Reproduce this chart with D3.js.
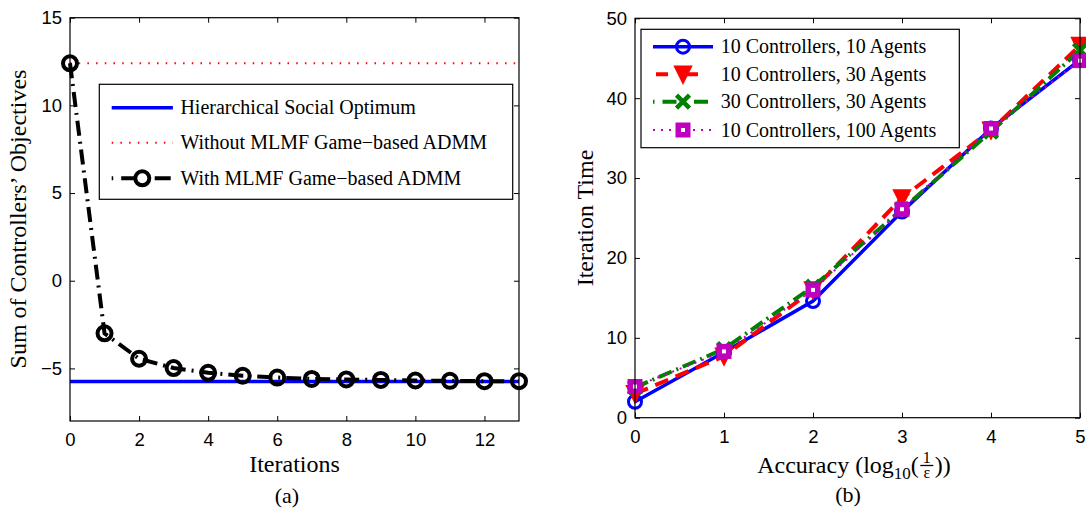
<!DOCTYPE html>
<html>
<head>
<meta charset="utf-8">
<script src="https://cdn.jsdelivr.net/npm/d3@7/dist/d3.min.js"></script>
<style>
  body { margin: 0; background: #fff; }
</style>
</head>
<body>
<svg id="chart" width="1086" height="510"></svg>
<script>
// (a) convergence
const iterations = [0, 1, 2, 3, 4, 5, 6, 7, 8, 9, 10, 11, 12, 13];
const withAdmm = [12.4, -3.0, -4.45, -4.98, -5.25, -5.42, -5.52, -5.6, -5.63, -5.66, -5.69, -5.71, -5.73, -5.73];
const socialOptimum = -5.75;
const withoutAdmm = 12.4;
const iterTicks = [0, 2, 4, 6, 8, 10, 12];
const objTicks = [-5, 0, 5, 10, 15];

// (b) iteration time vs accuracy
const accuracy = [0, 1, 2, 3, 4, 5];
const c10a10 = [2.0, 8.2, 14.6, 25.8, 36.2, 44.8];
const c10a30 = [3.0, 7.7, 16.0, 27.5, 36.0, 46.6];
const c30a30 = [3.8, 8.6, 16.4, 26.1, 35.8, 46.0];
const c10a100 = [3.9, 8.3, 16.0, 26.1, 36.2, 44.7];
const timeTicks = [0, 10, 20, 30, 40, 50];

const serif = "'Liberation Serif', 'Times New Roman', serif";
const sans = "'Liberation Sans', Arial, sans-serif";

const svg = d3.select('#chart');

const frame = (g, x, y, xTicks, yTicks) => {
  const [xa, xb] = x.range();
  const [ya, yb] = y.range();
  const fmt = d => d < 0 ? '\u2212' + Math.abs(d) : String(d);

  g.append('g').attr('transform', `translate(0,${ya})`)
    .call(d3.axisBottom(x).tickValues(xTicks).tickSize(-5).tickSizeOuter(0).tickPadding(12).tickFormat(fmt));
  g.append('g').attr('transform', `translate(0,${yb})`)
    .call(d3.axisTop(x).tickValues(xTicks).tickSize(-5).tickSizeOuter(0).tickFormat(''));
  g.append('g').attr('transform', `translate(${xa},0)`)
    .call(d3.axisLeft(y).tickValues(yTicks).tickSize(-5).tickSizeOuter(0).tickPadding(8).tickFormat(fmt));
  g.append('g').attr('transform', `translate(${xb},0)`)
    .call(d3.axisRight(y).tickValues(yTicks).tickSize(-5).tickSizeOuter(0).tickFormat(''));

  g.selectAll('.domain').remove();
  g.selectAll('.tick line').attr('stroke', '#000').attr('stroke-width', 1);
  g.selectAll('.tick text').attr('fill', '#000').style('font-family', sans).style('font-size', '18.5px');

  g.append('rect')
    .attr('x', xa).attr('y', yb)
    .attr('width', xb - xa).attr('height', ya - yb)
    .attr('fill', 'none').attr('stroke', '#000').attr('stroke-width', 1.2);
}

const yLabel = (x, y, txt) => {
  svg.append('text')
    .attr('transform', `translate(${x},${y}) rotate(-90)`)
    .attr('text-anchor', 'middle')
    .style('font-family', serif).style('font-size', '24px')
    .text(txt);
}

const plainText = (x, y, txt, size) => {
  svg.append('text')
    .attr('x', x).attr('y', y)
    .attr('text-anchor', 'middle')
    .style('font-family', serif).style('font-size', size + 'px')
    .text(txt);
}

// ---------- (a) ----------
const xa = d3.scaleLinear().domain([0, 13]).range([70, 519]);
const ya = d3.scaleLinear().domain([-8, 15]).range([421, 17.7]);
const ga = svg.append('g');

const plotA = ga.append('g');
plotA.append('line')
  .attr('x1', xa(0)).attr('x2', xa(13))
  .attr('y1', ya(socialOptimum)).attr('y2', ya(socialOptimum))
  .attr('stroke', '#0000ff').attr('stroke-width', 3.5);
plotA.append('line')
  .attr('x1', xa(0)).attr('x2', xa(13))
  .attr('y1', ya(withoutAdmm)).attr('y2', ya(withoutAdmm))
  .attr('stroke', '#ff0000').attr('stroke-width', 2).attr('stroke-dasharray', '1.5,7.2');

const lineA = d3.line().x((d, i) => xa(iterations[i])).y(d => ya(d));
plotA.append('path')
  .attr('d', lineA(withAdmm))
  .attr('fill', 'none').attr('stroke', '#000').attr('stroke-width', 4)
  .attr('stroke-dasharray', '15,6,2,6');
plotA.selectAll('circle.m')
  .data(withAdmm)
  .enter()
  .append('circle')
  .attr('cx', (d, i) => xa(iterations[i]))
  .attr('cy', d => ya(d))
  .attr('r', 7)
  .attr('fill', 'none').attr('stroke', '#000').attr('stroke-width', 4);

frame(ga, xa, ya, iterTicks, objTicks);

// legend (a)
const legA = ga.append('g');
legA.append('rect').attr('x', 99.3).attr('y', 84.3).attr('width', 413.4).attr('height', 115)
  .attr('fill', '#fff').attr('stroke', '#000').attr('stroke-width', 1.2);
const legAItems = ['Hierarchical Social Optimum', 'Without MLMF Game\u2212based ADMM', 'With MLMF Game\u2212based ADMM'];
const legAY = [107.7, 142.7, 178.3];
legA.append('line').attr('x1', 111.7).attr('x2', 172.9).attr('y1', legAY[0]).attr('y2', legAY[0])
  .attr('stroke', '#0000ff').attr('stroke-width', 3.5);
legA.append('line').attr('x1', 111.7).attr('x2', 172.9).attr('y1', legAY[1]).attr('y2', legAY[1])
  .attr('stroke', '#ff0000').attr('stroke-width', 2).attr('stroke-dasharray', '1.5,7.2');
legA.append('line').attr('x1', 111.7).attr('x2', 172.9).attr('y1', legAY[2]).attr('y2', legAY[2])
  .attr('stroke', '#000').attr('stroke-width', 4).attr('stroke-dasharray', '1.5,8,16,8');
legA.append('circle').attr('cx', 142.3).attr('cy', legAY[2]).attr('r', 7)
  .attr('fill', '#fff').attr('stroke', '#000').attr('stroke-width', 4);
legAItems.forEach((t, i) => {
  legA.append('text').attr('x', 180.4).attr('y', legAY[i]).attr('dy', '0.33em')
    .style('font-family', serif).style('font-size', '20px').text(t);
});

yLabel(25.5, 219, 'Sum of Controllers\u2019 Objectives');
plainText(294.5, 472, 'Iterations', 24);
plainText(287, 503, '(a)', 22);

// ---------- (b) ----------
const xb = d3.scaleLinear().domain([0, 5]).range([635, 1080]);
const yb = d3.scaleLinear().domain([0, 50]).range([417.7, 18.3]);
const gb = svg.append('g');
const plotB = gb.append('g');
const lineB = d3.line().x((d, i) => xb(accuracy[i])).y(d => yb(d));

const series = [
  {name: '10 Controllers, 10 Agents', values: c10a10, color: '#0000ff', dash: null, legDash: null, width: 3.5, marker: 'circle'},
  {name: '10 Controllers, 30 Agents', values: c10a30, color: '#ff0000', dash: '14,8', legDash: '0,3,12,15', width: 4, marker: 'tri'},
  {name: '30 Controllers, 30 Agents', values: c30a30, color: '#008000', dash: '14,5,2,5', legDash: '1.5,8,14,8', width: 4, marker: 'x'},
  {name: '10 Controllers, 100 Agents', values: c10a100, color: '#bf00bf', dash: '2,6', legDash: '2,6', width: 2, marker: 'square'}
];

const drawMarker = (g, type, cx, cy, color) => {
  if (type === 'circle') {
    g.append('circle').attr('cx', cx).attr('cy', cy).attr('r', 6.5)
      .attr('fill', 'none').attr('stroke', color).attr('stroke-width', 3);
  } else if (type === 'tri') {
    g.append('path')
      .attr('d', `M${cx - 8.5},${cy - 8}L${cx + 8.5},${cy - 8}L${cx},${cy + 9}Z`)
      .attr('fill', color).attr('stroke', color).attr('stroke-width', 1.5);
  } else if (type === 'x') {
    g.append('path')
      .attr('d', `M${cx - 6.5},${cy - 6.5}L${cx + 6.5},${cy + 6.5}M${cx - 6.5},${cy + 6.5}L${cx + 6.5},${cy - 6.5}`)
      .attr('stroke', color).attr('stroke-width', 4.5);
  } else {
    g.append('rect').attr('x', cx - 7).attr('y', cy - 7).attr('width', 14).attr('height', 14)
      .attr('fill', color).attr('stroke', color).attr('stroke-width', 1);
    g.append('rect').attr('x', cx - 2).attr('y', cy - 2).attr('width', 4).attr('height', 4)
      .attr('fill', '#fff');
  }
}

series.forEach(s => {
  const p = plotB.append('path')
    .attr('d', lineB(s.values))
    .attr('fill', 'none').attr('stroke', s.color).attr('stroke-width', s.width);
  if (s.dash) p.attr('stroke-dasharray', s.dash);
});
series.forEach(s => {
  s.values.forEach((v, i) => drawMarker(plotB, s.marker, xb(accuracy[i]), yb(v), s.color));
});

frame(gb, xb, yb, accuracy, timeTicks);

// legend (b)
const legB = gb.append('g');
legB.append('rect').attr('x', 641).attr('y', 29.3).attr('width', 318.3).attr('height', 118.4)
  .attr('fill', '#fff').attr('stroke', '#000').attr('stroke-width', 1.2);
const legBY = [46.7, 74.3, 101.7, 130];
series.forEach((s, i) => {
  const l = legB.append('line').attr('x1', 653).attr('x2', 713).attr('y1', legBY[i]).attr('y2', legBY[i])
    .attr('stroke', s.color).attr('stroke-width', s.width);
  if (s.legDash) l.attr('stroke-dasharray', s.legDash);
  drawMarker(legB, s.marker, 683, legBY[i], s.color);
  legB.append('text').attr('x', 720.7).attr('y', legBY[i]).attr('dy', '0.33em')
    .style('font-family', serif).style('font-size', '20px').text(s.name);
});

yLabel(593, 218, 'Iteration Time');

// x label with math
const mathLabel = (cx, base) => {
  const g = svg.append('g');
  const t = g.append('text').attr('x', 0).attr('y', base)
    .style('font-family', serif).style('font-size', '24px');
  t.append('tspan').text('Accuracy (log');
  t.append('tspan').style('font-size', '17px').attr('dy', 6).text('10');
  t.append('tspan').attr('dy', -6).text('(');
  const w1 = t.node().getComputedTextLength();
  const fw = 14;
  g.append('text').attr('x', w1 + fw / 2 + 1).attr('y', base - 10).attr('text-anchor', 'middle')
    .style('font-family', serif).style('font-size', '16px').text('1');
  g.append('line').attr('x1', w1 + 1.5).attr('x2', w1 + fw + 0.5).attr('y1', base - 7.5).attr('y2', base - 7.5)
    .attr('stroke', '#000').attr('stroke-width', 1.3);
  g.append('text').attr('x', w1 + fw / 2 + 1).attr('y', base + 5).attr('text-anchor', 'middle')
    .style('font-family', serif).style('font-size', '16px').text('\u03b5');
  const t2 = g.append('text').attr('x', w1 + fw + 2).attr('y', base)
    .style('font-family', serif).style('font-size', '24px').text('))');
  const total = w1 + fw + 2 + t2.node().getComputedTextLength();
  g.attr('transform', `translate(${cx - total / 2},0)`);
}
mathLabel(854, 473);
plainText(848, 502, '(b)', 22);
</script>
</body>
</html>
